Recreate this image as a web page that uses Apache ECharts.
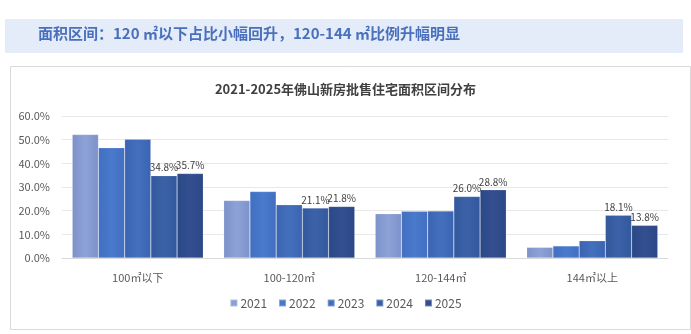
<!DOCTYPE html>
<html><head><meta charset="utf-8">
<script src="https://cdn.jsdelivr.net/npm/echarts@6/dist/echarts.min.js"></script>
<style>html,body{margin:0;padding:0;background:#fff;}#c{width:691px;height:334px;}</style>
</head><body><div id="c"></div>
<script>
const categories = ['100㎡以下', '100-120㎡', '120-144㎡', '144㎡以上'];
const years = ['2021', '2022', '2023', '2024', '2025'];
const v2021 = [52.2, 24.3, 18.7, 4.5];
const v2022 = [46.6, 28.1, 19.8, 5.1];
const v2023 = [50.2, 22.5, 19.9, 7.3];
const v2024 = [34.8, 21.1, 26.0, 18.1];
const v2025 = [35.7, 21.8, 28.8, 13.8];
const yTicks = [0, 10, 20, 30, 40, 50, 60];
const headline = '面积区间：120 ㎡以下占比小幅回升，120-144 ㎡比例升幅明显';
const chartTitle = '2021-2025年佛山新房批售住宅面积区间分布';

const values = [v2021, v2022, v2023, v2024, v2025];
const colors = [['#7c92ca','#8ea2d6'], ['#416fc2','#4a7acb'], ['#3b64b2','#4370bd'], ['#33589c','#3b62a8'], ['#2b4886','#334f90']];
const showLabel = [false, false, false, true, true];
const font = '"Microsoft YaHei","Noto Sans CJK SC","Noto Sans",sans-serif';

const chart = echarts.init(document.getElementById('c'));
chart.setOption({
  animation: false,
  textStyle: { fontFamily: font },
  graphic: [
    { type: 'rect', left: 5, top: 19, shape: { width: 678, height: 34 }, style: { fill: '#e3ecf8' }, silent: true },
    { type: 'text', left: 38, top: 26, style: { text: headline, fill: '#4a70bd', font: 'bold 15px ' + font } },
    { type: 'rect', left: 8, top: 64, shape: { width: 680, height: 263 }, style: { fill: 'none', stroke: '#d9d9d9', lineWidth: 1 }, silent: true }
  ],
  title: {
    text: chartTitle, left: 'center', top: 78,
    textStyle: { fontSize: 13, fontWeight: 'bold', color: '#404040', fontFamily: font }
  },
  legend: {
    data: years, bottom: 20, left: 'center', itemWidth: 7, itemHeight: 7, itemGap: 11,
    icon: 'rect', textStyle: { fontSize: 12, color: '#595959', padding: [0,0,0,-2] }
  },
  grid: { left: 62, right: 23, top: 116, bottom: 76 },
  xAxis: {
    type: 'category', data: categories,
    axisLine: { lineStyle: { color: '#d9d9d9' } },
    axisTick: { show: false },
    axisLabel: { color: '#595959', fontSize: 11, margin: 14 }
  },
  yAxis: {
    type: 'value', min: 0, max: 60, interval: 10,
    axisLabel: { color: '#595959', fontSize: 11, formatter: v => v.toFixed(1) + '%', margin: 12 },
    splitLine: { lineStyle: { color: '#e8e8e8' } },
    axisLine: { show: false }, axisTick: { show: false }
  },
  series: years.map((y, i) => ({
    name: y, type: 'bar', data: values[i],
    barGap: '0%', barCategoryGap: '13.5%',
    itemStyle: {
      color: new echarts.graphic.LinearGradient(0, 0, 1, 0, [
        { offset: 0, color: colors[i][0] }, { offset: 0.5, color: colors[i][1] }, { offset: 1, color: colors[i][0] }
      ]),
      borderColor: 'rgba(255,255,255,0.35)', borderWidth: 0.5
    },
    label: {
      show: showLabel[i], position: 'top', distance: 3, fontSize: 10, color: '#404040',
      formatter: p => p.value.toFixed(1) + '%'
    }
  }))
});
</script></body></html>
